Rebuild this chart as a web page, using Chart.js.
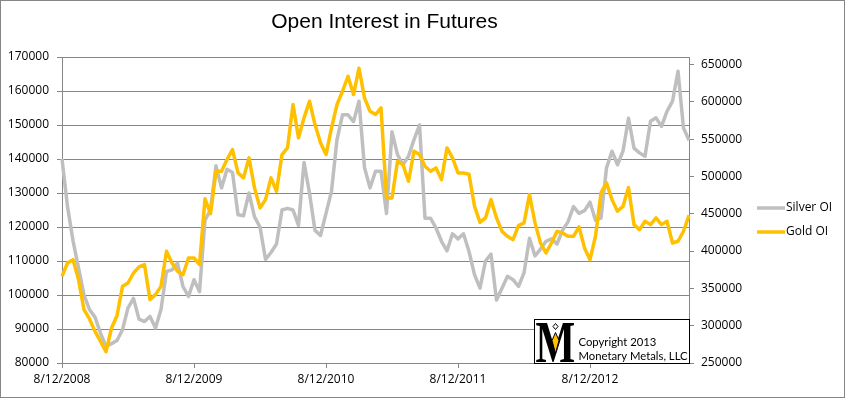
<!DOCTYPE html>
<html>
<head>
<meta charset="utf-8">
<script src="https://cdn.jsdelivr.net/npm/chart.js@4"></script>
<style>
  html, body { margin: 0; padding: 0; background: #fff; }
  #wrap { width: 845px; height: 398px; }
</style>
</head>
<body>
<div id="wrap"><canvas id="oiChart" width="845" height="398"></canvas></div>
<script>
// Data (half-month samples)
const dates = [
  '8/12/2008','8/27/2008','9/12/2008','9/27/2008','10/12/2008','10/27/2008','11/12/2008','11/27/2008','12/12/2008','12/27/2008',
  '1/12/2009','1/27/2009','2/12/2009','2/27/2009','3/12/2009','3/27/2009','4/12/2009','4/27/2009','5/12/2009','5/27/2009',
  '6/12/2009','6/27/2009','7/12/2009','7/27/2009','8/12/2009','8/27/2009','9/12/2009','9/27/2009','10/12/2009','10/27/2009',
  '11/12/2009','11/27/2009','12/12/2009','12/27/2009','1/12/2010','1/27/2010','2/12/2010','2/27/2010','3/12/2010','3/27/2010',
  '4/12/2010','4/27/2010','5/12/2010','5/27/2010','6/12/2010','6/27/2010','7/12/2010','7/27/2010','8/12/2010','8/27/2010',
  '9/12/2010','9/27/2010','10/12/2010','10/27/2010','11/12/2010','11/27/2010','12/12/2010','12/27/2010','1/12/2011','1/27/2011',
  '2/12/2011','2/27/2011','3/12/2011','3/27/2011','4/12/2011','4/27/2011','5/12/2011','5/27/2011','6/12/2011','6/27/2011',
  '7/12/2011','7/27/2011','8/12/2011','8/27/2011','9/12/2011','9/27/2011','10/12/2011','10/27/2011','11/12/2011','11/27/2011',
  '12/12/2011','12/27/2011','1/12/2012','1/27/2012','2/12/2012','2/27/2012','3/12/2012','3/27/2012','4/12/2012','4/27/2012',
  '5/12/2012','5/27/2012','6/12/2012','6/27/2012','7/12/2012','7/27/2012','8/12/2012','8/27/2012','9/12/2012','9/27/2012',
  '10/12/2012','10/27/2012','11/12/2012','11/27/2012','12/12/2012','12/27/2012','1/12/2013','1/27/2013','2/12/2013','2/27/2013',
  '3/12/2013','3/27/2013','4/12/2013','4/27/2013','5/12/2013'
];

const silverOI = [
  140000,126000,116000,108000,100000,95700,93500,88800,84900,85700,
  86600,89800,96200,99000,92900,92200,93700,90300,95700,106900,
  107400,109400,102500,99600,104500,101000,122000,125000,138000,131500,
  137000,136000,123600,123300,130000,123000,120000,110500,112500,115000,
  125000,125500,125000,120500,139000,130000,119000,117500,124000,130500,
  145700,153000,153000,151000,157000,137500,131500,136400,136400,124000,
  148000,141300,138300,140800,145700,150000,122600,122600,119700,115800,
  113000,118000,116500,118000,112800,106000,102000,110000,112000,98500,
  102000,105500,104500,102500,106500,116700,111500,113500,115800,116500,
  115000,119000,121500,126000,124000,124800,127300,122000,122600,137400,
  142300,138300,142300,152000,143200,141800,140800,151100,152100,149600,
  154000,157000,165800,149100,145500
];

const goldOI = [
  366000,384000,388500,361700,321500,309000,292400,279000,265000,296900,
  313400,352700,357200,370600,378700,381800,334900,341600,352700,399600,
  384000,372800,368400,390700,390700,381800,470000,450000,507000,507000,
  522500,536000,504700,498000,524800,484600,457800,468900,498000,480100,
  529300,538200,596300,551600,578400,600700,569500,545000,529300,565000,
  596300,614100,634200,609700,645000,605200,587300,582900,591800,471200,
  471200,520300,515800,493500,533700,529300,513600,506900,511400,495700,
  538200,524800,504700,504700,503000,460000,438500,444400,468900,444400,
  426400,419700,415300,434000,437700,475600,437700,410800,397500,410800,
  426400,424300,419700,419700,432300,404200,388500,420000,477900,491300,
  468900,453300,460000,485000,435400,428700,439900,435400,444400,435400,
  439900,410800,413100,426500,448000
];

const xTickLabels = ['8/12/2008', '8/12/2009', '8/12/2010', '8/12/2011', '8/12/2012'];
const leftTicks = [80000, 90000, 100000, 110000, 120000, 130000, 140000, 150000, 160000, 170000];
const rightTicks = [250000, 300000, 350000, 400000, 450000, 500000, 550000, 600000, 650000];

const axisGray = '#868686';
const tickFont = { family: 'Open Sans', size: 12 };

// Legend drawn at the right, Excel style
const sideLegend = {
  id: 'sideLegend',
  afterDraw(chart) {
    const c = chart.ctx;
    const x0 = chart.width - 88;
    const rows = [chart.chartArea.top + 151, chart.chartArea.top + 175];
    chart.data.datasets.forEach((ds, i) => {
      const y = rows[i];
      c.save();
      c.strokeStyle = ds.borderColor;
      c.lineWidth = 3.5;
      c.beginPath();
      c.moveTo(x0, y);
      c.lineTo(x0 + 28, y);
      c.stroke();
      c.fillStyle = '#000';
      c.font = '12px "Open Sans"';
      c.textBaseline = 'middle';
      c.fillText(ds.label, x0 + 29, y);
      c.restore();
    });
  }
};

// Copyright box + logo in the bottom right corner of the plot
const copyrightBox = {
  id: 'copyrightBox',
  afterDraw(chart) {
    const c = chart.ctx;
    const a = chart.chartArea;
    const w = 155, h = 44;
    const bx = Math.round(a.right) - w + 0.5;
    const by = Math.round(a.bottom) - h + 0.5;
    c.save();
    c.fillStyle = '#fff';
    c.fillRect(bx, by, w, h);
    c.strokeStyle = '#000';
    c.lineWidth = 1;
    c.strokeRect(bx, by, w, h);

    // logo: tall serif M with a small gold figure
    c.save();
    c.translate(bx + 1, by + 42);
    c.scale(0.7, 1);
    c.fillStyle = '#000';
    c.font = 'bold 60px "Liberation Serif"';
    c.textBaseline = 'alphabetic';
    c.fillText('M', 0, 0);
    c.restore();
    const mx = bx + 21;
    c.fillStyle = '#FFC000';
    c.strokeStyle = '#000';
    c.lineWidth = 1;
    c.beginPath();
    c.moveTo(mx, by + 13);
    c.lineTo(mx + 3.5, by + 21);
    c.lineTo(mx, by + 34);
    c.lineTo(mx - 3.5, by + 21);
    c.closePath();
    c.fill();
    c.stroke();
    c.beginPath();
    c.moveTo(mx, by + 4);
    c.lineTo(mx + 2.5, by + 7);
    c.lineTo(mx, by + 10);
    c.lineTo(mx - 2.5, by + 7);
    c.closePath();
    c.fillStyle = '#fff';
    c.fill();
    c.stroke();

    c.fillStyle = '#000';
    c.font = '11.3px Lato';
    c.textBaseline = 'alphabetic';
    c.fillText('Copyright 2013', bx + 44, by + 26);
    c.fillText('Monetary Metals, LLC', bx + 44, by + 40);
    c.restore();
  }
};

// Outer chart border
const outerBorder = {
  id: 'outerBorder',
  afterDraw(chart) {
    const c = chart.ctx;
    c.save();
    c.strokeStyle = axisGray;
    c.lineWidth = 1;
    c.strokeRect(0.5, 0.5, chart.width - 1, chart.height - 1);
    c.restore();
  }
};

const ctx = document.getElementById('oiChart').getContext('2d');

const oiChart = new Chart(ctx, {
  type: 'line',
  data: {
    labels: dates,
    datasets: [{
      label: 'Silver OI',
      data: silverOI,
      yAxisID: 'y',
      borderColor: '#BFBFBF',
      borderWidth: 3.5,
      pointRadius: 0,
      tension: 0,
      borderJoinStyle: 'round',
      order: 1
    }, {
      label: 'Gold OI',
      data: goldOI,
      yAxisID: 'y2',
      borderColor: '#FFC000',
      borderWidth: 3.5,
      pointRadius: 0,
      tension: 0,
      borderJoinStyle: 'round',
      order: 0
    }]
  },
  options: {
    responsive: false,
    animation: false,
    layout: { padding: { left: 0, right: 76, top: 0, bottom: 0 } },
    scales: {
      x: {
        type: 'category',
        offset: false,
        grid: { display: true, drawOnChartArea: false, tickLength: 5, color: axisGray },
        border: { display: true, color: axisGray },
        ticks: {
          autoSkip: false,
          maxRotation: 0,
          padding: 4,
          color: '#000',
          font: tickFont,
          callback: function (val) {
            const lab = this.getLabelForValue(val);
            return xTickLabels.includes(lab) ? lab : null;
          }
        },
        afterFit: s => { s.height = 35; }
      },
      y: {
        position: 'left',
        min: 80000,
        max: 170000,
        afterBuildTicks: s => { s.ticks = leftTicks.map(v => ({ value: v })); },
        grid: { color: axisGray, tickLength: 5 },
        border: { display: true, color: axisGray },
        ticks: { color: '#000', font: tickFont, padding: 8, callback: v => String(v) },
        afterFit: s => { s.width = 62; }
      },
      y2: {
        position: 'right',
        min: 250000,
        max: 660000,
        afterBuildTicks: s => { s.ticks = rightTicks.map(v => ({ value: v })); },
        grid: { drawOnChartArea: false, color: axisGray, tickLength: 5 },
        border: { display: true, color: axisGray },
        ticks: { color: '#000', font: tickFont, padding: 7, callback: v => String(v) },
        afterFit: s => { s.width = 80; }
      }
    },
    plugins: {
      legend: { display: false },
      tooltip: { enabled: false },
      title: {
        display: true,
        text: 'Open Interest in Futures',
        color: '#000',
        font: { family: 'Liberation Sans', size: 21, weight: 'normal', lineHeight: 1.2 },
        padding: { top: 10, bottom: 21.8 }
      }
    }
  },
  plugins: [sideLegend, copyrightBox, outerBorder]
});
</script>
</body>
</html>
